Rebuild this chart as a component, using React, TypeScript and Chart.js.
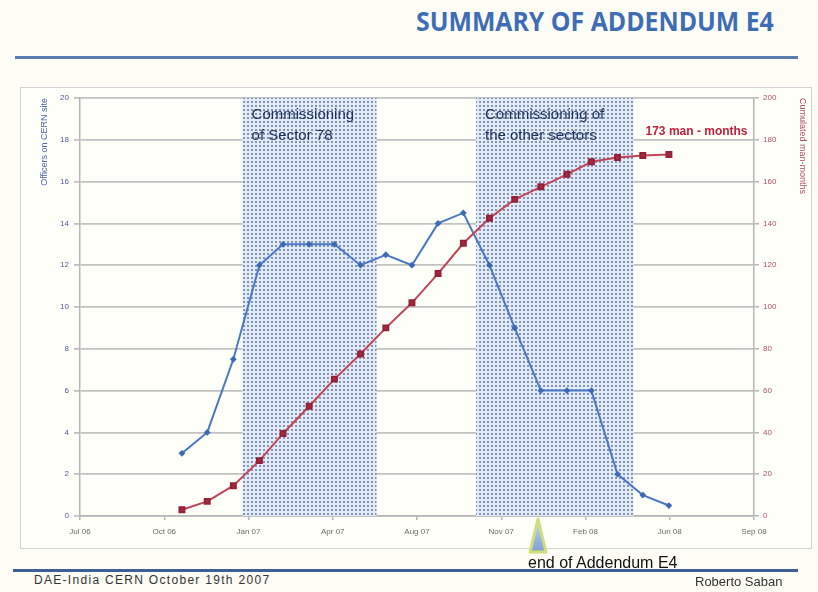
import React, { useEffect, useRef } from 'react';
import { Chart, registerables } from 'chart.js';

Chart.register(...registerables);

// ---- data ----
const months = [
  '2006-11-01', '2006-12-01',
  '2007-01-01', '2007-02-01', '2007-03-01', '2007-04-01', '2007-05-01', '2007-06-01',
  '2007-07-01', '2007-08-01', '2007-09-01', '2007-10-01', '2007-11-01', '2007-12-01',
  '2008-01-01', '2008-02-01', '2008-03-01', '2008-04-01', '2008-05-01', '2008-06-01',
];
const officers = [3, 4, 7.5, 12, 13, 13, 13, 12, 12.5, 12, 14, 14.5, 12, 9, 6, 6, 6, 2, 1, 0.5];
const cumulated = [3, 7, 14.5, 26.5, 39.5, 52.5, 65.5, 77.5, 90, 102, 116, 130.5, 142.5, 151.5, 157.5, 163.5, 169.5, 171.5, 172.5, 173];

const xTickDays = [2, 102, 202, 302, 402, 502, 602, 702, 802];
const xTickLabels = ['Jul 06', 'Oct 06', 'Jan 07', 'Apr 07', 'Aug 07', 'Nov 07', 'Feb 08', 'Jun 08', 'Sep 08'];

const shadeStarts = ['2007-01-12', '2007-10-16'];
const shadeEnds = ['2007-06-20', '2008-04-20'];
const shadeLabels = [
  ['Commissioning', 'of Sector 78'],
  ['Commissioning of', 'the other sectors'],
];
const totalLabel = '173 man - months';

const EPOCH = Date.UTC(2006, 6, 1);
const dayOf = (s: string) => (Date.parse(s) - EPOCH) / 86400000;

const FONT = '"Liberation Sans", Arial, sans-serif';

const shadePlugin = {
  id: 'shadeRegions',
  beforeDatasetsDraw(chart: any) {
    const { ctx, chartArea, scales } = chart;
    const x = scales.x;
    const tile = document.createElement('canvas');
    tile.width = 4;
    tile.height = 4;
    const t = tile.getContext('2d')!;
    t.fillStyle = '#e3ebf6';
    t.fillRect(0, 0, 4, 4);
    t.fillStyle = '#8193b8';
    t.fillRect(1, 1, 2, 2);
    const pattern = ctx.createPattern(tile, 'repeat');
    ctx.save();
    shadeStarts.forEach((s, i) => {
      const x0 = x.getPixelForValue(dayOf(s));
      const x1 = x.getPixelForValue(dayOf(shadeEnds[i]));
      ctx.fillStyle = pattern;
      ctx.fillRect(x0, chartArea.top, x1 - x0, chartArea.bottom - chartArea.top);
    });
    ctx.restore();
  },
  afterDraw(chart: any) {
    const { ctx, scales } = chart;
    const x = scales.x;
    const y = scales.y;
    ctx.save();
    ctx.textBaseline = 'middle';
    ctx.textAlign = 'left';
    ctx.fillStyle = '#1c2f5a';
    ctx.font = `15px ${FONT}`;
    shadeStarts.forEach((s, i) => {
      const x0 = x.getPixelForValue(dayOf(s)) + 9;
      shadeLabels[i].forEach((line, j) => {
        ctx.fillText(line, x0, y.getPixelForValue(19.2 - j * 1.0));
      });
    });
    ctx.fillStyle = '#c0203a';
    ctx.font = `bold 12px ${FONT}`;
    const xe = x.getPixelForValue(dayOf(shadeEnds[1])) + 12;
    ctx.fillText(totalLabel, xe, y.getPixelForValue(18.37));
    ctx.restore();
  },
};

export default function App() {
  const ref = useRef<HTMLCanvasElement>(null);

  useEffect(() => {
    if (!ref.current) return;
    const chart = new Chart(ref.current, {
      type: 'line',
      data: {
        datasets: [
          {
            label: 'Cumulated man-months',
            data: months.map((m, i) => ({ x: dayOf(m), y: cumulated[i] })),
            yAxisID: 'y1',
            borderColor: '#c04456',
            backgroundColor: '#a8283c',
            pointBackgroundColor: '#a8283c',
            pointBorderColor: '#92223a',
            pointStyle: 'rect',
            pointRadius: 3.5,
            borderWidth: 2,
            tension: 0,
            order: 0,
          },
          {
            label: 'Officers on CERN site',
            data: months.map((m, i) => ({ x: dayOf(m), y: officers[i] })),
            yAxisID: 'y',
            borderColor: '#4a78c4',
            backgroundColor: '#3d6ab5',
            pointBackgroundColor: '#3d6ab5',
            pointBorderColor: '#3d6ab5',
            pointStyle: 'rectRot',
            pointRadius: 2,
            borderWidth: 2,
            tension: 0,
            order: 1,
          },
        ],
      },
      options: {
        animation: false,
        responsive: false,
        maintainAspectRatio: false,
        layout: { padding: { top: 10, left: 0, right: 0, bottom: 0 } },
        plugins: { legend: { display: false }, tooltip: { enabled: false } },
        scales: {
          x: {
            type: 'linear',
            min: xTickDays[0],
            max: xTickDays[xTickDays.length - 1],
            afterBuildTicks: (s: any) => {
              s.ticks = xTickDays.map((v) => ({ value: v }));
            },
            afterFit: (s: any) => {
              s.height = 32;
            },
            ticks: {
              callback: (_v: any, i: number) => xTickLabels[i] ?? '',
              font: { size: 8, family: FONT },
              color: '#6a6a6a',
              padding: 7,
              maxRotation: 0,
              autoSkip: false,
            },
            grid: { display: true, drawOnChartArea: false, tickLength: 4, color: '#b5b5b5', lineWidth: 1.5 },
            border: { color: '#b5b5b5', width: 1.5 },
          },
          y: {
            position: 'left',
            min: 0,
            max: 20,
            afterFit: (s: any) => {
              s.width = 58;
            },
            ticks: { stepSize: 2, font: { size: 8, family: FONT }, color: '#4a5a9a', padding: 5 },
            grid: { color: '#c2c2c2', lineWidth: 1.8, tickLength: 6 },
            border: { color: '#b5b5b5', width: 1.5 },
            title: {
              display: true,
              text: 'Officers on CERN site',
              align: 'end',
              color: '#4a64a8',
              font: { size: 9, family: FONT },
              padding: { top: 17, bottom: 0 },
            },
          },
          y1: {
            position: 'right',
            min: 0,
            max: 200,
            afterFit: (s: any) => {
              s.width = 58;
            },
            ticks: { stepSize: 20, font: { size: 8, family: FONT }, color: '#b05068', padding: 4 },
            grid: { drawOnChartArea: false, tickLength: 5, color: '#b5b5b5', lineWidth: 1.5 },
            border: { color: '#b5b5b5', width: 1.5 },
            title: {
              display: true,
              text: 'Cumulated man-months',
              align: 'end',
              color: '#b04a66',
              font: { size: 9, family: FONT },
              padding: { top: 4, bottom: 0 },
            },
          },
        },
      },
      plugins: [shadePlugin],
    } as any);
    return () => chart.destroy();
  }, []);

  return (
    <div
      style={{
        position: 'fixed',
        left: 0,
        top: 0,
        width: 818,
        height: 592,
        background: '#fdfdf6',
        overflow: 'hidden',
        fontFamily: FONT,
      }}
    >
      <div
        style={{
          position: 'absolute',
          left: 416,
          top: 2,
          fontSize: 27,
          fontWeight: 'bold',
          color: '#3e6db6',
          whiteSpace: 'nowrap',
          letterSpacing: 0,
          fontFamily: '"Open Sans", sans-serif',
          transform: 'scaleX(0.92)',
          transformOrigin: 'left top',
        }}
      >
        SUMMARY OF ADDENDUM E4
      </div>
      <div style={{ position: 'absolute', left: 15, top: 56, width: 783, height: 3, background: '#5a7db0' }} />
      <div
        style={{
          position: 'absolute',
          left: 20,
          top: 87,
          width: 790,
          height: 460,
          border: '1.5px solid #d2d2d2',
          background: '#fffffa',
        }}
      />
      <canvas ref={ref} width={790} height={460} style={{ position: 'absolute', left: 22, top: 88, width: 790, height: 460 }} />
      <svg style={{ position: 'absolute', left: 522, top: 514, overflow: 'visible' }} width={32} height={44}>
        <defs>
          <linearGradient id="tri" x1="0" y1="0" x2="0" y2="1">
            <stop offset="0" stopColor="#c8d8f0" />
            <stop offset="1" stopColor="#7f9ed2" />
          </linearGradient>
        </defs>
        <polygon points="16,5 8,38 24,38" fill="url(#tri)" stroke="#cfe07a" strokeWidth={3} strokeLinejoin="round" />
      </svg>
      <div style={{ position: 'absolute', left: 13, top: 569, width: 785, height: 3, background: '#3d5f95' }} />
      <div style={{ position: 'absolute', left: 528, top: 554, fontSize: 16, color: '#111', whiteSpace: 'nowrap' }}>
        end of Addendum E4
      </div>
      <div style={{ position: 'absolute', left: 34, top: 573, fontSize: 12, color: '#333', letterSpacing: 1.3, whiteSpace: 'nowrap' }}>
        DAE-India CERN October 19th 2007
      </div>
      <div style={{ position: 'absolute', left: 695, top: 574, fontSize: 13, color: '#333', whiteSpace: 'nowrap' }}>
        Roberto Saban
      </div>
    </div>
  );
}
